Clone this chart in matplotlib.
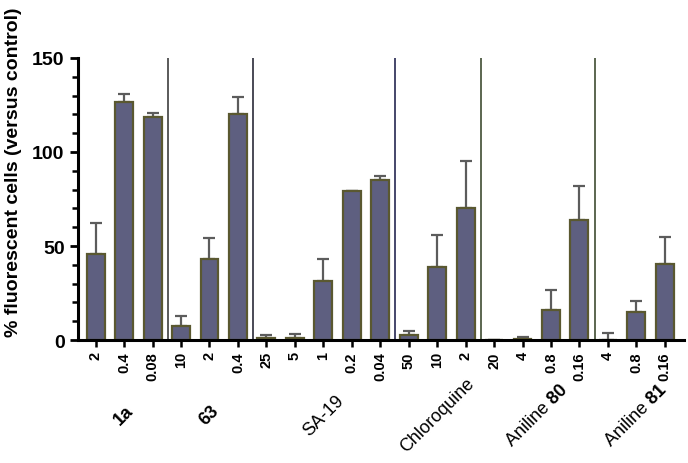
import matplotlib
matplotlib.use("Agg")
import matplotlib.pyplot as plt
import numpy as np
from matplotlib.transforms import blended_transform_factory

plt.rcParams['font.family'] = ['Liberation Sans', 'DejaVu Sans']
plt.rcParams['mathtext.fontset'] = 'custom'
plt.rcParams['mathtext.bf'] = 'Liberation Sans:bold'
plt.rcParams['mathtext.rm'] = 'Liberation Sans'

groups = ["1a", "63", "SA-19", "Chloroquine", "Aniline 80", "Aniline 81"]
group_sizes = [3, 3, 5, 3, 4, 3]
dose_labels = ["2", "0.4", "0.08",
               "10", "2", "0.4",
               "25", "5", "1", "0.2", "0.04",
               "50", "10", "2",
               "20", "4", "0.8", "0.16",
               "4", "0.8", "0.16"]
values = [45.5, 126.5, 118.5,
          7.4, 43.0, 120.0,
          1.0, 1.0, 31.6, 79.5, 85.0,
          2.7, 39.0, 70.0,
          0.0, 0.3, 16.0, 63.6,
          0.0, 15.0, 40.4]
errors = [16.5, 4.5, 2.0,
          5.4, 11.0, 9.0,
          1.7, 2.0, 11.4, 0.0, 2.0,
          2.1, 17.0, 25.0,
          0.0, 1.2, 10.6, 18.4,
          3.7, 5.8, 14.6]

fig = plt.figure(figsize=(6.88, 4.64), dpi=100)
ax = fig.add_axes([0.113, 0.265, 0.881, 0.608])

x = np.arange(len(values))
ax.bar(x, values, width=0.63, color='#5e5f80', edgecolor='#5a5830', linewidth=1.6, zorder=2)
ax.errorbar(x, values, yerr=[np.zeros(len(errors)), errors], fmt='none',
            ecolor='#5c5c5c', elinewidth=1.6, capsize=4.5, capthick=1.6, zorder=1)

bounds = np.cumsum(group_sizes)
sep_colors = ['#5a5a5a', '#4a4a55', '#45466a', '#5b6650', '#5b6650']
for b, c in zip(bounds[:-1], sep_colors):
    ax.plot([b - 0.47, b - 0.47], [0, 150], color=c, linewidth=1.4, zorder=1)

ax.set_xlim(-0.63, 20.67)
ax.set_ylim(0, 150)
ax.set_yticks([0, 50, 100, 150])
ax.set_yticks([v for v in range(10, 150, 10) if v % 50 != 0], minor=True)
ax.set_xticks(x)
ax.set_xticklabels(dose_labels, rotation=90, fontsize=10.5, fontweight='bold')
ax.tick_params(axis='y', which='major', length=6, width=2, labelsize=14)
ax.tick_params(axis='y', which='minor', length=4, width=1.8)
ax.tick_params(axis='x', length=5, width=1.8, pad=3)
for lab in ax.get_yticklabels():
    lab.set_fontweight('bold')

for s in ['top', 'right']:
    ax.spines[s].set_visible(False)
ax.spines['left'].set_linewidth(2.2)
ax.spines['bottom'].set_linewidth(2.2)
ax.spines['left'].set_bounds(0, 150)

ax.set_ylabel('% fluorescent cells (versus control)', fontsize=14, fontweight='bold')
ax.yaxis.set_label_coords(-0.092, 0.6)

starts = bounds - np.array(group_sizes)
centers = (starts + bounds - 1) / 2.0
trans = blended_transform_factory(ax.transData, ax.transAxes)
ylab = -0.265
for g, cx in zip(groups, centers):
    if g.startswith("Aniline"):
        num = g.split()[1]
        txt = r"Aniline $\mathbf{" + num + "}$"
        ax.text(cx, ylab, txt, rotation=45, ha='center', va='center', fontsize=13,
                transform=trans)
    elif g in ("1a", "63"):
        ax.text(cx, ylab, g, rotation=45, ha='center', va='center', fontsize=13,
                fontweight='bold', transform=trans)
    else:
        ax.text(cx, ylab, g, rotation=45, ha='center', va='center', fontsize=13,
                transform=trans)

fig.savefig('out.png', dpi=100)
